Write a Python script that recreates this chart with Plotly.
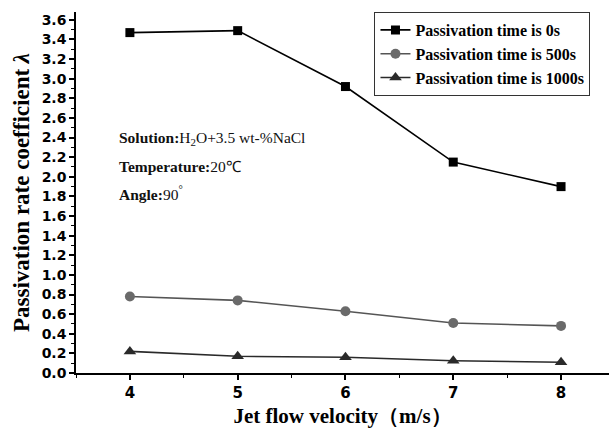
import plotly.graph_objects as go

velocity = [4, 5, 6, 7, 8]
lam_0s = [3.47, 3.49, 2.92, 2.15, 1.90]
lam_500s = [0.78, 0.74, 0.63, 0.51, 0.48]
lam_1000s = [0.22, 0.17, 0.16, 0.125, 0.11]

series_names = ["Passivation time is 0s", "Passivation time is 500s", "Passivation time is 1000s"]
y_ticks = [round(0.2 * i, 1) for i in range(19)]
x_ticks = [4, 5, 6, 7, 8]

serif = "Liberation Serif, Times New Roman, serif"
sans = "DejaVu Sans"

fig = go.Figure()
styles = [
    dict(color="#000000", symbol="square", size=9, line="#000000"),
    dict(color="#6a6a6a", symbol="circle", size=10, line="#555555"),
    dict(color="#2a2a2a", symbol="triangle-up", size=11, line="#2a2a2a"),
]
for name, vals, st in zip(series_names, [lam_0s, lam_500s, lam_1000s], styles):
    fig.add_trace(go.Scatter(
        x=velocity, y=vals, name=f"<b>{name}</b>", mode="lines+markers",
        line=dict(color=st["line"], width=1.6),
        marker=dict(symbol=st["symbol"], size=st["size"], color=st["color"]),
    ))

notes = [
    (2.39, "<b>Solution:</b>H<sub>2</sub>O+3.5 wt-%NaCl"),
    (2.11, "<b>Temperature:</b>20℃"),
    (1.84, "<b>Angle:</b>90<sup>°</sup>"),
]
for yv, txt in notes:
    fig.add_annotation(x=3.88, y=yv, xref="x", yref="y", text=txt, showarrow=False,
                       xanchor="left", yanchor="middle",
                       font=dict(family=serif, size=15.5, color="#111111"))

fig.update_layout(
    width=609, height=428,
    margin=dict(l=76, r=0, t=12, b=55),
    paper_bgcolor="white", plot_bgcolor="white",
    showlegend=True,
    legend=dict(x=0.56, y=1.0, xanchor="left", yanchor="top",
                bordercolor="#333333", borderwidth=1, bgcolor="white",
                font=dict(family=serif, size=16, color="#000000"),
                itemwidth=30, tracegroupgap=0),
    xaxis=dict(range=[3.5, 8.445], tickvals=x_ticks, ticktext=[f"<b>{v}</b>" for v in x_ticks],
               showgrid=False, zeroline=False, showline=True, linecolor="#000000", linewidth=1.5,
               ticks="outside", ticklen=5, tickwidth=1.5, tickcolor="#000000",
               minor=dict(dtick=0.5, tick0=3.5, ticks="outside", ticklen=3, tickwidth=1.2, tickcolor="#000000"),
               tickfont=dict(family=sans, size=15, color="#000000"),
               title=dict(text="<b>Jet flow velocity（m/s）</b>", standoff=12,
                          font=dict(family=serif, size=21, color="#000000"))),
    yaxis=dict(range=[0, 3.68], tickvals=y_ticks, ticktext=[f"<b>{v:.1f}</b>" for v in y_ticks],
               showgrid=False, zeroline=False, showline=True, linecolor="#000000", linewidth=1.5,
               ticks="outside", ticklen=5, tickwidth=1.5, tickcolor="#000000",
               minor=dict(dtick=0.1, tick0=0, ticks="outside", ticklen=3, tickwidth=1.2, tickcolor="#000000"),
               tickfont=dict(family=sans, size=14, color="#000000"),
               title=dict(text="<b>Passivation rate coefficient <i>λ</i></b>", standoff=6,
                          font=dict(family=serif, size=23, color="#000000"))),
)

fig.write_html("out.html")
